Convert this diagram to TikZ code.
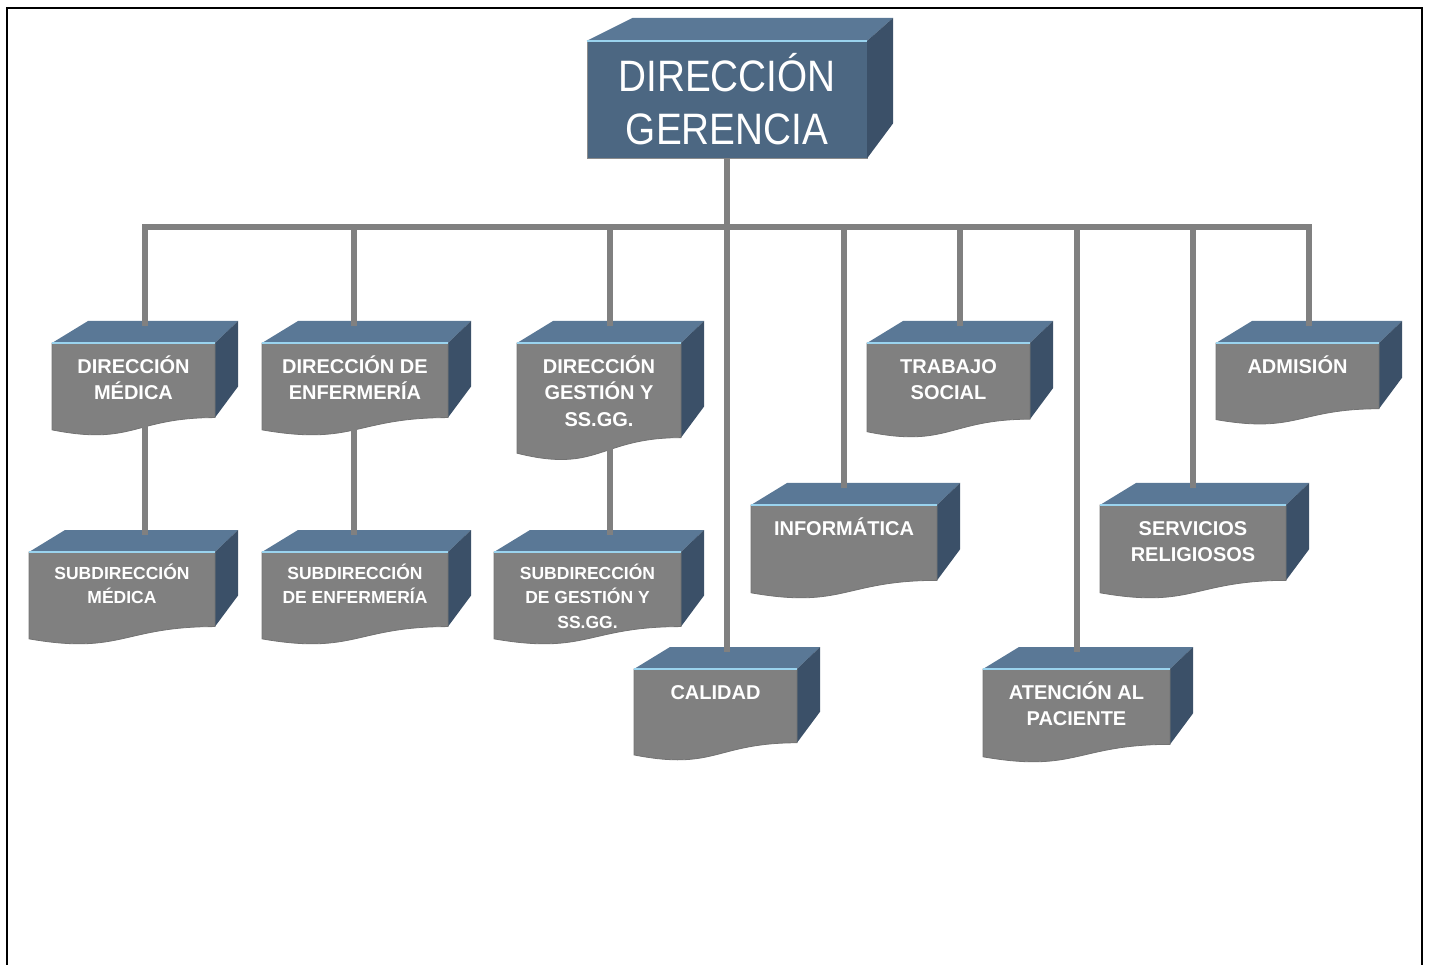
\documentclass[tikz,border=0pt]{standalone}
\usepackage{fontspec}
\setmainfont{Liberation Sans}
\newfontfamily\gerfont{Liberation Sans}[FakeStretch=0.88]
\usepackage{tikz}
\usetikzlibrary{positioning}
\definecolor{facegray}{HTML}{808080}
\definecolor{topblue}{HTML}{5A7896}
\definecolor{sideblue}{HTML}{3B5068}
\definecolor{gerblue}{HTML}{4C6782}
\definecolor{rimcyan}{HTML}{9AD3EE}
\definecolor{linkgray}{HTML}{808080}

\tikzset{
  topface/.style={fill=topblue},
  sideface/.style={fill=sideblue},
  frontface/.style={fill=facegray, draw=black!55, line width=0.8},
  rim/.style={draw=rimcyan, line width=2},
  boxtext/.style={text=white, font=\fontsize{20}{26.5}\selectfont\bfseries,
                  align=center, inner sep=0pt, anchor=north},
  subtext/.style={boxtext, font=\fontsize{17.5}{24.5}\selectfont\bfseries},
  gerbox/.style={fill=gerblue, draw=black!45, minimum width=280, minimum height=117,
                 text=white, font=\gerfont\fontsize{44}{53}\selectfont,
                 align=center, inner sep=0pt},
  link/.style={draw=linkgray, line width=6},
}

% 3D document box: [text style]{name}{left}{top}{width}{height}{stem x}{text}
\newcommand{\orgbox}[8][boxtext]{%
  \fill[topface] (#3,#4) -- (#3+36,#4-22) -- (#3+#5+23,#4-22) -- (#3+#5,#4) -- cycle;
  \fill[sideface] (#3+#5,#4) -- (#3+#5+23,#4-22) -- (#3+#5+23,#4+0.802*#6-31)
    -- (#3+#5,#4+0.802*#6) -- cycle;
  \filldraw[frontface] (#3,#4) -- (#3+#5,#4) -- (#3+#5,#4+0.802*#6)
    .. controls (#3+0.5*#5,#4+0.802*#6) and (#3+0.5*#5,#4+1.108*#6) .. (#3,#4+0.934*#6) -- cycle;
  \draw[rim] (#3,#4) -- (#3+#5,#4);
  \node[#1] (#2) at (#3+0.5*#5,#4+8) {\rule{0pt}{1.1em}#8};
  \coordinate (#2-top) at (#7,#4-17);
  \coordinate (#2-bot) at (#7,#4+0.9*#6-12);
}

\begin{document}
\begin{tikzpicture}[x=1pt, y=-1pt]
  \useasboundingbox (0,0) rectangle (1433,965);

  % Frame
  \draw[line width=2] (7,975) -- (7,8) -- (1422,8) -- (1422,975);

  % Top box
  \node[gerbox] (ger) at (727,99.5) {DIRECCIÓN\\GERENCIA};
  \fill[topface] (ger.north west) -- ++(46,-23) -- ([shift={(26,-23)}]ger.north east)
    -- (ger.north east) -- cycle;
  \fill[sideface] (ger.north east) -- ++(26,-23) -- ([shift={(26,-35)}]ger.south east)
    -- (ger.south east) -- cycle;
  \draw[rim] (ger.north west) -- (ger.north east);

  % First row
  \orgbox{dmed}{52}{343}{163}{93}{145}{DIRECCIÓN\\MÉDICA}
  \orgbox{denf}{262}{343}{186}{93}{354}{DIRECCIÓN DE\\ENFERMERÍA}
  \orgbox{dges}{517}{343}{164}{118}{610}{DIRECCIÓN\\GESTIÓN Y\\SS.GG.}
  \orgbox{trab}{867}{343}{163}{95}{960}{TRABAJO\\SOCIAL}
  \orgbox{adm}{1216}{343}{163}{82}{1309}{ADMISIÓN}

  % Middle row
  \orgbox{info}{751}{505}{186}{94}{844}{INFORMÁTICA}
  \orgbox{serv}{1100}{505}{186}{94}{1193}{SERVICIOS\\RELIGIOSOS}

  % Subdirecciones
  \orgbox[subtext]{smed}{29}{552}{186}{93}{145}{SUBDIRECCIÓN\\MÉDICA}
  \orgbox[subtext]{senf}{262}{552}{186}{93}{354}{SUBDIRECCIÓN\\DE ENFERMERÍA}
  \orgbox[subtext]{sges}{494}{552}{187}{93}{610}{SUBDIRECCIÓN\\DE GESTIÓN Y\\SS.GG.}

  % Bottom row
  \orgbox{cal}{634}{669}{163}{92}{727}{CALIDAD}
  \orgbox{aten}{983}{669}{187}{94}{1077}{ATENCIÓN AL\\PACIENTE}

  % Connectors
  \coordinate (bus) at (727,227);
  \draw[link] (dmed-top) |- (bus) -| (adm-top);
  \draw[link] (ger.south) -- (cal-top);
  \foreach \n in {denf,dges,info,trab,aten,serv}
    \draw[link] (\n-top |- bus) -- (\n-top);
  \draw[link] (dmed-bot) -- (smed-top);
  \draw[link] (denf-bot) -- (senf-top);
  \draw[link] (dges-bot) -- (sges-top);
\end{tikzpicture}
\end{document}
